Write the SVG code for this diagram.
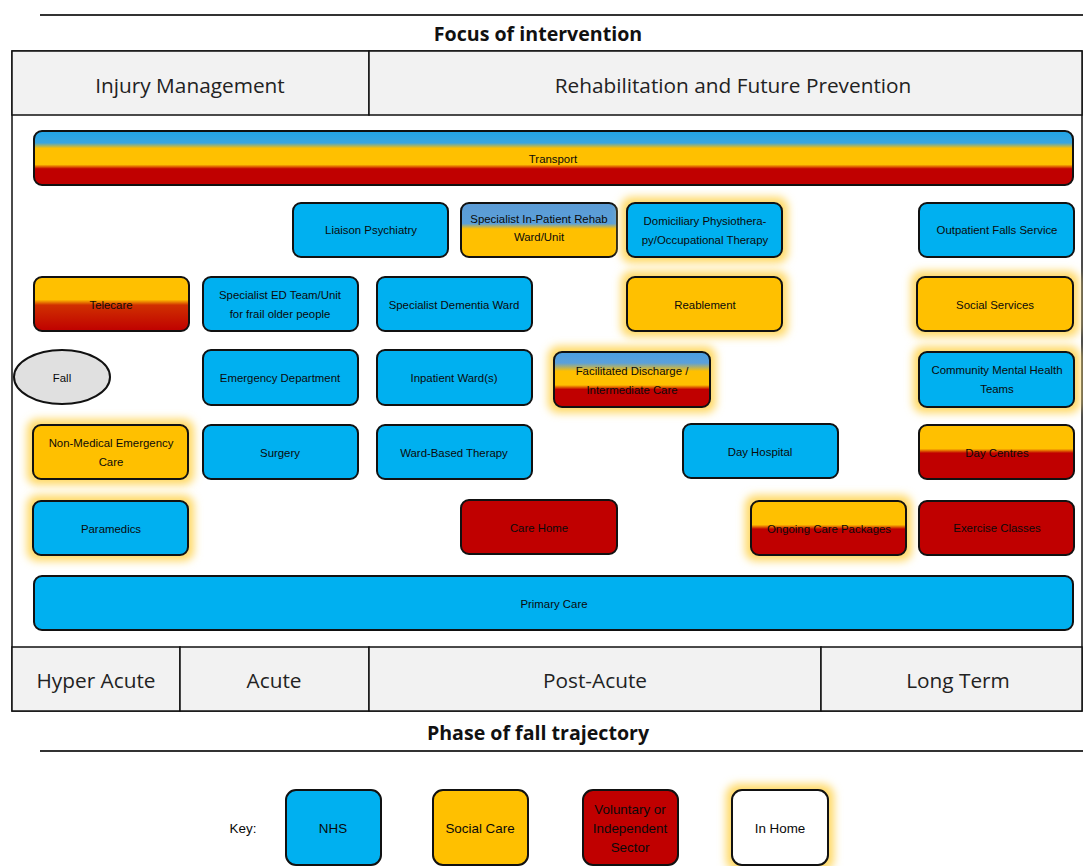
<svg xmlns="http://www.w3.org/2000/svg" width="1083" height="866" viewBox="0 0 1083 866">
<style>
.t{font-family:"Liberation Sans",Arial,sans-serif;font-size:11.4px;fill:#0a0a0a;text-anchor:middle;dominant-baseline:central}
.k{font-size:13.4px}
.h{font-family:"Open Sans","Liberation Sans",sans-serif;font-size:20.8px;fill:#222;text-anchor:middle;dominant-baseline:central}
.b{font-family:"Open Sans","Liberation Sans",sans-serif;font-size:19.6px;font-weight:bold;fill:#111;text-anchor:middle;dominant-baseline:central}
.n{stroke:#111;stroke-width:2}
.nhs{fill:#00B0F0}.sc{fill:#FFC000}.vol{fill:#C00000}
.glow{fill:#FFD966;filter:url(#blur)}
.cell{fill:#F2F2F2;stroke:#111;stroke-width:1.5}
</style>
<defs>
<filter id="blur" x="-20%" y="-40%" width="140%" height="180%"><feGaussianBlur stdDeviation="4.5"/></filter>
<linearGradient id="gTrans" x1="0" y1="0" x2="0" y2="1">
<stop offset="0" stop-color="#1FA5E8"/><stop offset="0.22" stop-color="#3AA5E0"/><stop offset="0.32" stop-color="#FFC000"/><stop offset="0.62" stop-color="#FFC000"/><stop offset="0.70" stop-color="#C00000"/><stop offset="1" stop-color="#C00000"/>
</linearGradient>
<linearGradient id="gYR" x1="0" y1="0" x2="0" y2="1">
<stop offset="0" stop-color="#FFC000"/><stop offset="0.42" stop-color="#FFC000"/><stop offset="0.52" stop-color="#D03000"/><stop offset="1" stop-color="#BF0000"/>
</linearGradient>
<linearGradient id="gYR2" x1="0" y1="0" x2="0" y2="1">
<stop offset="0" stop-color="#FFC000"/><stop offset="0.44" stop-color="#FFC000"/><stop offset="0.52" stop-color="#C00000"/><stop offset="1" stop-color="#C00000"/>
</linearGradient>
<linearGradient id="gBY" x1="0" y1="0" x2="0" y2="1">
<stop offset="0" stop-color="#5B9BD5"/><stop offset="0.38" stop-color="#5BA0DA"/><stop offset="0.48" stop-color="#FFC000"/><stop offset="1" stop-color="#FFC000"/>
</linearGradient>
<linearGradient id="gBYR" x1="0" y1="0" x2="0" y2="1">
<stop offset="0" stop-color="#4A9EE0"/><stop offset="0.2" stop-color="#5BA0DA"/><stop offset="0.35" stop-color="#FFC000"/><stop offset="0.6" stop-color="#FFC000"/><stop offset="0.68" stop-color="#C00000"/><stop offset="1" stop-color="#C00000"/>
</linearGradient>
</defs>
<rect width="1083" height="866" fill="#fff"/>

<g id="frame">
<line x1="40" y1="15" x2="1083" y2="15" stroke="#333" stroke-width="2"/>
<text class="b" x="538" y="33">Focus of intervention</text>
<rect x="12" y="51" width="1070" height="660" fill="#fff" stroke="#111" stroke-width="1.5"/>
<rect class="cell" x="12" y="51" width="357" height="64"/>
<rect class="cell" x="369" y="51" width="713" height="64"/>
<text class="h" x="190" y="85">Injury Management</text>
<text class="h" x="733" y="85">Rehabilitation and Future Prevention</text>
<rect class="cell" x="12" y="647" width="168" height="64"/>
<rect class="cell" x="180" y="647" width="189" height="64"/>
<rect class="cell" x="369" y="647" width="452" height="64"/>
<rect class="cell" x="821" y="647" width="261" height="64"/>
<text class="h" x="96" y="680">Hyper Acute</text>
<text class="h" x="274" y="680">Acute</text>
<text class="h" x="595" y="680">Post-Acute</text>
<text class="h" x="958" y="680">Long Term</text>
<text class="b" x="538" y="732">Phase of fall trajectory</text>
<line x1="40" y1="751" x2="1083" y2="751" stroke="#333" stroke-width="2"/>
</g>

<g id="connectors"></g>

<g id="transport"><rect class="n" x="34" y="131" width="1039" height="54" rx="8" fill="url(#gTrans)"/><text class="t" x="553" y="159">Transport</text></g>

<g id="liaison"><rect class="n nhs" x="293" y="203" width="155" height="54" rx="8"/><text class="t" x="371" y="230">Liaison Psychiatry</text></g>
<g id="rehab"><rect class="n" x="461" y="203" width="156" height="54" rx="8" fill="url(#gBY)"/><text class="t" x="539" y="219">Specialist In-Patient Rehab</text><text class="t" x="539" y="237">Ward/Unit</text></g>
<g id="domiciliary"><rect class="glow" x="621" y="197" width="167" height="66" rx="10"/><rect class="n nhs" x="627" y="203" width="155" height="54" rx="8"/><text class="t" x="705" y="221">Domiciliary Physiothera-</text><text class="t" x="705" y="240">py/Occupational Therapy</text></g>
<g id="outpatient"><rect class="n nhs" x="919" y="203" width="155" height="54" rx="8"/><text class="t" x="997" y="230">Outpatient Falls Service</text></g>

<g id="telecare"><rect class="n" x="34" y="277" width="155" height="54" rx="8" fill="url(#gYR)"/><text class="t" x="111" y="305">Telecare</text></g>
<g id="specED"><rect class="n nhs" x="203" y="277" width="155" height="54" rx="8"/><text class="t" x="280" y="295">Specialist ED Team/Unit</text><text class="t" x="280" y="314">for frail older people</text></g>
<g id="dementia"><rect class="n nhs" x="377" y="277" width="155" height="54" rx="8"/><text class="t" x="454" y="305">Specialist Dementia Ward</text></g>
<g id="reablement"><rect class="glow" x="621" y="271" width="167" height="66" rx="10"/><rect class="n sc" x="627" y="277" width="155" height="54" rx="8"/><text class="t" x="705" y="305">Reablement</text></g>
<g id="social"><rect class="glow" x="911" y="271" width="168" height="66" rx="10"/><rect class="n sc" x="917" y="277" width="156" height="54" rx="8"/><text class="t" x="995" y="305">Social Services</text></g>

<g id="fall"><ellipse cx="62" cy="377" rx="48" ry="27" fill="#E0E0E0" stroke="#111" stroke-width="2"/><text class="t" x="62" y="378">Fall</text></g>
<g id="ed"><rect class="n nhs" x="203" y="350" width="155" height="55" rx="8"/><text class="t" x="280" y="378">Emergency Department</text></g>
<g id="inpatient"><rect class="n nhs" x="377" y="350" width="155" height="55" rx="8"/><text class="t" x="454" y="378">Inpatient Ward(s)</text></g>
<g id="discharge"><rect class="glow" x="548" y="346" width="168" height="67" rx="10"/><rect class="n" x="554" y="352" width="156" height="55" rx="8" fill="url(#gBYR)"/><text class="t" x="632" y="371">Facilitated Discharge /</text><text class="t" x="632" y="390">Intermediate Care</text></g>
<g id="cmht"><rect class="glow" x="913" y="346" width="167" height="67" rx="10"/><rect class="n nhs" x="919" y="352" width="155" height="55" rx="8"/><text class="t" x="997" y="370">Community Mental Health</text><text class="t" x="997" y="389">Teams</text></g>

<g id="nonmed"><rect class="glow" x="27" y="419" width="167" height="66" rx="10"/><rect class="n sc" x="33" y="425" width="155" height="54" rx="8"/><text class="t" x="111" y="443">Non-Medical Emergency</text><text class="t" x="111" y="462">Care</text></g>
<g id="surgery"><rect class="n nhs" x="203" y="425" width="155" height="54" rx="8"/><text class="t" x="280" y="453">Surgery</text></g>
<g id="wardtherapy"><rect class="n nhs" x="377" y="425" width="155" height="54" rx="8"/><text class="t" x="454" y="453">Ward-Based Therapy</text></g>
<g id="dayhospital"><rect class="n nhs" x="683" y="424" width="155" height="54" rx="8"/><text class="t" x="760" y="452">Day Hospital</text></g>
<g id="daycentres"><rect class="n" x="919" y="425" width="155" height="54" rx="8" fill="url(#gYR2)"/><text class="t" x="997" y="453">Day Centres</text></g>

<g id="paramedics"><rect class="glow" x="27" y="495" width="167" height="66" rx="10"/><rect class="n nhs" x="33" y="501" width="155" height="54" rx="8"/><text class="t" x="111" y="529">Paramedics</text></g>
<g id="carehome"><rect class="n vol" x="461" y="500" width="156" height="54" rx="8"/><text class="t" x="539" y="528">Care Home</text></g>
<g id="ongoing"><rect class="glow" x="745" y="495" width="167" height="66" rx="10"/><rect class="n" x="751" y="501" width="155" height="54" rx="8" fill="url(#gYR2)"/><text class="t" x="829" y="529">Ongoing Care Packages</text></g>
<g id="exercise"><rect class="n vol" x="919" y="501" width="155" height="54" rx="8"/><text class="t" x="997" y="528">Exercise Classes</text></g>

<g id="primary"><rect class="n nhs" x="34" y="576" width="1039" height="54" rx="8"/><text class="t" x="554" y="604">Primary Care</text></g>

<g id="key">
<text class="t k" x="243" y="828">Key:</text>
<rect class="n nhs" x="286" y="790" width="95" height="75" rx="10"/><text class="t k" x="333" y="828">NHS</text>
<rect class="n sc" x="433" y="790" width="95" height="75" rx="10"/><text class="t k" x="480" y="828">Social Care</text>
<rect class="n vol" x="583" y="790" width="95" height="75" rx="10"/><text class="t k" x="630" y="809">Voluntary or</text><text class="t k" x="630" y="828">Independent</text><text class="t k" x="630" y="847">Sector</text>
<rect class="glow" x="726" y="784" width="108" height="87" rx="12"/>
<rect class="n" x="732" y="790" width="96" height="75" rx="10" fill="#fff"/><text class="t k" x="780" y="828">In Home</text>
</g>
</svg>
